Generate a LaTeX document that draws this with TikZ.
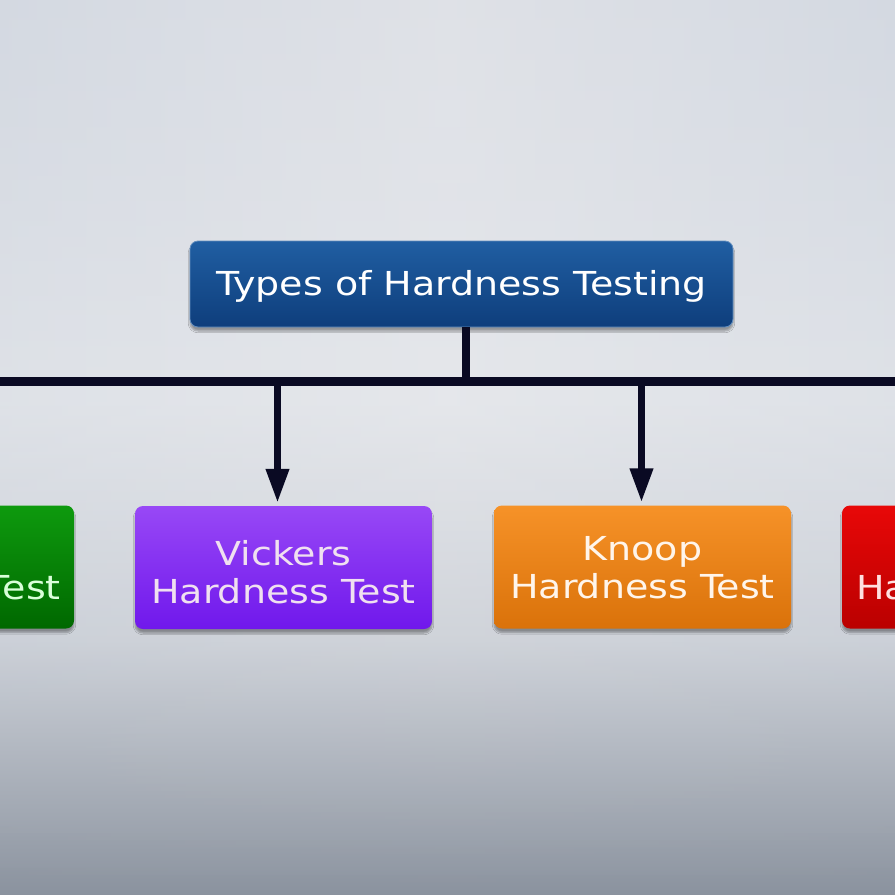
\documentclass[tikz,border=0pt]{standalone}
\usepackage{fontspec}
\newfontfamily\boxfont[FakeStretch=1.15]{DejaVu Sans}
\usetikzlibrary{arrows.meta,shadows.blur,fadings}
\definecolor{bgA}{RGB}{218,221,228}
\definecolor{bgB}{RGB}{229,231,235}
\definecolor{bgC}{RGB}{204,208,215}
\definecolor{bgD}{RGB}{138,146,158}
\definecolor{bgE}{RGB}{206,213,223}
\definecolor{lineC}{RGB}{10,10,35}
\definecolor{blueT}{RGB}{32,94,162}
\definecolor{blueB}{RGB}{14,62,124}
\definecolor{vioT}{RGB}{152,72,246}
\definecolor{vioB}{RGB}{112,24,236}
\definecolor{oraT}{RGB}{246,146,40}
\definecolor{oraB}{RGB}{218,114,10}
\definecolor{grnT}{RGB}{14,154,14}
\definecolor{grnB}{RGB}{0,104,0}
\definecolor{redT}{RGB}{232,8,8}
\definecolor{redB}{RGB}{186,0,0}
\tikzset{
  boxbase/.style={rounded corners=8pt, inner sep=0pt,
    blur shadow={shadow xshift=0pt, shadow yshift=-4pt, shadow blur steps=6, shadow opacity=35}},
  boxtext/.style={inner sep=0pt, align=center, font=\boxfont\fontsize{33}{38}\selectfont},
  topbox/.style={boxbase, top color=blueT, bottom color=blueB, draw=blueT!70!white, line width=0.8pt,
    minimum width=543pt, minimum height=86pt},
  testbox/.style={boxbase, minimum width=297pt, minimum height=123pt},
  vio/.style={testbox, top color=vioT, bottom color=vioB},
  ora/.style={testbox, top color=oraT, bottom color=oraB},
  grn/.style={testbox, top color=grnT, bottom color=grnB},
  rdd/.style={testbox, top color=redT, bottom color=redB},
  conn/.style={draw=lineC, line width=7pt},
  arr/.style={conn, -{Triangle[width=22pt,length=34pt]}}
}
\begin{document}
\begin{tikzpicture}[x=1pt,y=-1pt]
\useasboundingbox (0,0) rectangle (895,895);
\clip (0,0) rectangle (895,895);
\fill[top color=bgA, bottom color=bgB] (-1,-1) rectangle (896,401);
\fill[top color=bgB, bottom color=bgC] (-1,400) rectangle (896,641);
\fill[top color=bgC, bottom color=bgD] (-1,640) rectangle (896,896);
\shade[left color=bgE, right color=bgE, middle color=bgB, opacity=0.5, path fading=south] (-1,-1) rectangle (896,896);

\node[topbox] (top) at (461.5,284) {};
\node[boxtext, text=white] (top-t) at ([yshift=-2pt]top.center) {Types of Hardness Testing};

\node[grn] (brinell) at (-74.5,567) {};
\node[boxtext, text=white!85!green] (brinell-t) at ([xshift=3pt,yshift=-20pt]brinell.center) {Hardness Test};

\node[vio] (vickers) at (283.5,567.5) {};
\node[boxtext, text=white!88!violet] (vickers-t) at ([yshift=-4.5pt]vickers.center) {Vickers\\Hardness Test};

\node[ora] (knoop) at (642.5,567) {};
\node[boxtext, text=white!92!orange] (knoop-t) at ([yshift=-1pt]knoop.center) {Knoop\\Hardness Test};

\node[rdd] (rockwell) at (990.5,567) {};
\node[boxtext, text=white!88!red] (rockwell-t) at ([xshift=-2pt,yshift=-20pt]rockwell.center) {Hardness Test};

\coordinate (barL) at (-20,381.5);
\coordinate (barR) at (915,381.5);
\coordinate (stem) at (466,381.5);
\draw[conn, line width=9pt] (barL) -- (barR);
\draw[conn, line width=8pt] (top.south -| stem) -- (stem);
\draw[arr] ([xshift=-6pt]vickers.north |- barL) -- ([xshift=-6pt,yshift=3pt]vickers.north);
\draw[arr] ([xshift=-1pt]knoop.north |- barL) -- ([xshift=-1pt,yshift=3pt]knoop.north);
\end{tikzpicture}
\end{document}
